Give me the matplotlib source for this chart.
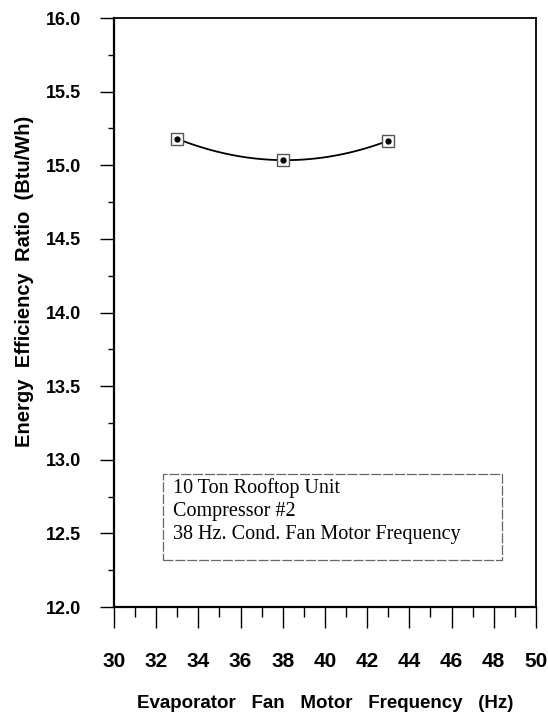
import numpy as np
import matplotlib
matplotlib.use('Agg')
import matplotlib.pyplot as plt
from matplotlib.patches import Rectangle
from matplotlib.ticker import MultipleLocator

# data
freq = [33, 38, 43]
eer = [15.18, 15.035, 15.167]
note_lines = ['10 Ton Rooftop Unit', 'Compressor #2', '38 Hz. Cond. Fan Motor Frequency']

plt.rcParams['font.family'] = ['Liberation Sans', 'DejaVu Sans']

fig = plt.figure(figsize=(5.48, 7.21), dpi=100)
ax = fig.add_axes([0.208, 0.158, 0.770, 0.817])

# smooth trend line through the points (quadratic fit, as in the original)
coef = np.polyfit(freq, eer, 2)
xs = np.linspace(min(freq), max(freq), 100)
ax.plot(xs, np.polyval(coef, xs), color='black', lw=1.3, zorder=2)
ax.plot(freq, eer, ls='none', marker='s', ms=8, mfc='white', mec='#555555', mew=1.0, zorder=3)
ax.plot(freq, eer, ls='none', marker='o', ms=3.5, color='black', zorder=4)

ax.set_xlim(30, 50)
ax.set_ylim(12.0, 16.0)
ax.xaxis.set_major_locator(MultipleLocator(2))
ax.xaxis.set_minor_locator(MultipleLocator(1))
ax.yaxis.set_major_locator(MultipleLocator(0.5))
ax.yaxis.set_minor_locator(MultipleLocator(0.25))
ax.yaxis.set_major_formatter(matplotlib.ticker.FormatStrFormatter('%.1f'))

ax.tick_params(axis='x', which='major', direction='out', length=15, width=1.0, pad=17,
               labelsize=15)
ax.tick_params(axis='x', which='minor', direction='out', length=7.5, width=1.0)
ax.tick_params(axis='y', which='major', direction='out', length=10, width=1.0, pad=14,
               labelsize=13)
ax.tick_params(axis='y', which='minor', direction='out', length=4.3, width=1.0)
for lab in ax.get_xticklabels() + ax.get_yticklabels():
    lab.set_fontweight('bold')

for side in ['left', 'bottom']:
    ax.spines[side].set_linewidth(1.6)
for side in ['top', 'right']:
    ax.spines[side].set_linewidth(1.3)

ax.set_xlabel('Evaporator   Fan   Motor   Frequency   (Hz)', fontsize=13.5, fontweight='bold')
ax.set_ylabel('Energy  Efficiency  Ratio  (Btu/Wh)', fontsize=14.5, fontweight='bold')
ax.xaxis.set_label_coords(0.501, -0.150)
ax.yaxis.set_label_coords(-0.190, 0.553)

# note box
ax.add_patch(Rectangle((0.116, 0.080), 0.803, 0.146, transform=ax.transAxes,
                       fill=False, ec='#666666', lw=0.9, ls=(0, (8, 1.5)), zorder=1))
ax.text(0.140, 0.219, '\n'.join(note_lines), transform=ax.transAxes, va='top', ha='left',
        fontsize=14.5, family=['Liberation Serif', 'DejaVu Serif'], linespacing=1.3)

fig.savefig('out.png', dpi=100)
